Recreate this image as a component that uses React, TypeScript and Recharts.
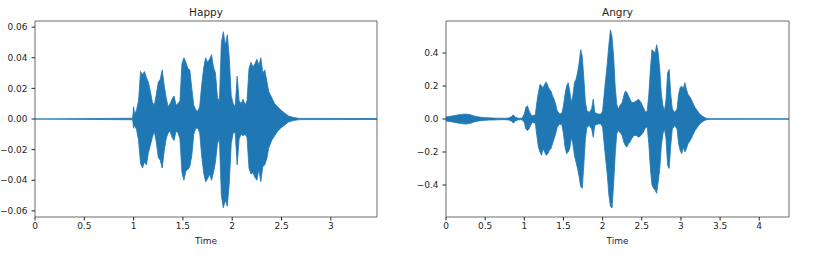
import { AreaChart, Area, XAxis, YAxis, ReferenceArea } from "recharts";

// envelope of the "Happy" waveform: time (s), max and min amplitude
const happyTime = [
  0, 0.99, 1.0, 1.01, 1.03, 1.05, 1.07, 1.09, 1.11, 1.13, 1.15, 1.17, 1.19, 1.21, 1.23, 1.25, 1.27, 1.29,
  1.31, 1.33, 1.35, 1.37, 1.39, 1.41, 1.43, 1.45, 1.47, 1.49, 1.51, 1.53, 1.55, 1.57, 1.59, 1.61, 1.63,
  1.65, 1.67, 1.69, 1.71, 1.73, 1.75, 1.77, 1.79, 1.81, 1.83, 1.85, 1.87, 1.89, 1.91, 1.93, 1.95, 1.97,
  1.99, 2.01, 2.03, 2.05, 2.07, 2.09, 2.11, 2.13, 2.15, 2.17, 2.19, 2.21, 2.23, 2.25, 2.27, 2.29, 2.31,
  2.33, 2.35, 2.37, 2.4, 2.43, 2.46, 2.49, 2.53, 2.57, 2.62, 2.68, 3.47,
];
const happyMax = [
  0, 0.0005, 0.008, 0.003, 0.006, 0.012, 0.031, 0.029, 0.031, 0.027, 0.024, 0.018, 0.011, 0.009, 0.016,
  0.024, 0.026, 0.032, 0.022, 0.014, 0.008, 0.01, 0.013, 0.015, 0.009, 0.01, 0.012, 0.036, 0.04, 0.037,
  0.033, 0.032, 0.02, 0.009, 0.006, 0.005, 0.008, 0.022, 0.033, 0.04, 0.037, 0.039, 0.042, 0.034, 0.03,
  0.014, 0.012, 0.05, 0.057, 0.048, 0.055, 0.04, 0.015, 0.01, 0.008, 0.028, 0.012, 0.01, 0.013, 0.009,
  0.012, 0.033, 0.037, 0.034, 0.036, 0.039, 0.035, 0.04, 0.03, 0.032, 0.025, 0.018, 0.014, 0.01, 0.008,
  0.006, 0.004, 0.002, 0.001, 0.0004, 0.0003,
];
const happyMin = [
  0, -0.0005, -0.006, -0.004, -0.007, -0.014, -0.029, -0.032, -0.028, -0.03, -0.022, -0.017, -0.012,
  -0.008, -0.015, -0.025, -0.027, -0.032, -0.021, -0.013, -0.009, -0.008, -0.012, -0.014, -0.008, -0.009,
  -0.013, -0.035, -0.04, -0.034, -0.033, -0.031, -0.024, -0.01, -0.006, -0.006, -0.009, -0.024, -0.035,
  -0.041, -0.039, -0.036, -0.04, -0.035, -0.028, -0.016, -0.013, -0.05, -0.058, -0.053, -0.057, -0.042,
  -0.016, -0.009, -0.009, -0.03, -0.013, -0.01, -0.011, -0.01, -0.012, -0.032, -0.036, -0.035, -0.038,
  -0.04, -0.033, -0.041, -0.031, -0.03, -0.026, -0.019, -0.014, -0.011, -0.008, -0.006, -0.004, -0.002,
  -0.001, -0.0004, -0.0003,
];

// envelope of the "Angry" waveform
const angryTime = [
  0, 0.05, 0.1, 0.15, 0.2, 0.25, 0.3, 0.35, 0.4, 0.45, 0.5, 0.55, 0.6, 0.65, 0.7, 0.75, 0.8, 0.84, 0.86,
  0.88, 0.92, 0.97, 1.0, 1.02, 1.04, 1.06, 1.08, 1.1, 1.14, 1.16, 1.18, 1.2, 1.22, 1.24, 1.26, 1.28, 1.3,
  1.32, 1.34, 1.36, 1.38, 1.4, 1.42, 1.45, 1.48, 1.5, 1.52, 1.54, 1.56, 1.58, 1.6, 1.62, 1.64, 1.66, 1.68,
  1.7, 1.72, 1.74, 1.76, 1.78, 1.8, 1.83, 1.86, 1.88, 1.9, 1.94, 1.98, 2.0, 2.03, 2.06, 2.08, 2.1, 2.12,
  2.14, 2.16, 2.18, 2.2, 2.22, 2.25, 2.27, 2.29, 2.31, 2.33, 2.35, 2.37, 2.4, 2.43, 2.46, 2.49, 2.52, 2.55,
  2.57, 2.59, 2.61, 2.63, 2.65, 2.67, 2.69, 2.71, 2.73, 2.75, 2.77, 2.79, 2.81, 2.83, 2.85, 2.87, 2.89,
  2.92, 2.95, 2.97, 2.99, 3.01, 3.03, 3.05, 3.07, 3.09, 3.12, 3.15, 3.18, 3.21, 3.24, 3.28, 3.32, 3.36,
  4.38,
];
const angryMax = [
  0.012, 0.016, 0.02, 0.025, 0.028, 0.03, 0.027, 0.02, 0.014, 0.01, 0.008, 0.007, 0.006, 0.005, 0.005,
  0.004, 0.006, 0.015, 0.026, 0.012, 0.005, 0.004, 0.03, 0.07, 0.08, 0.05, 0.03, 0.02, 0.025, 0.1, 0.16,
  0.21, 0.2, 0.19, 0.21, 0.225, 0.2, 0.18, 0.17, 0.14, 0.12, 0.09, 0.05, 0.03, 0.035, 0.08, 0.15, 0.2,
  0.22, 0.17, 0.1, 0.14, 0.22, 0.24, 0.28, 0.34, 0.42, 0.38, 0.25, 0.1, 0.05, 0.04, 0.06, 0.12, 0.04,
  0.03, 0.03, 0.05, 0.2, 0.34, 0.45, 0.54, 0.5, 0.38, 0.2, 0.09, 0.06, 0.08, 0.1, 0.14, 0.17, 0.16, 0.14,
  0.12, 0.1, 0.1, 0.11, 0.12, 0.1, 0.07, 0.04, 0.05, 0.15, 0.3, 0.42, 0.41, 0.4, 0.45, 0.4, 0.3, 0.15,
  0.08, 0.05, 0.12, 0.28, 0.3, 0.15, 0.06, 0.04, 0.06, 0.15, 0.19, 0.2, 0.18, 0.22, 0.18, 0.15, 0.13,
  0.1, 0.07, 0.05, 0.03, 0.015, 0.005, 0.002, 0.001,
];
const angryMin = [
  -0.012, -0.015, -0.02, -0.024, -0.028, -0.031, -0.028, -0.019, -0.013, -0.01, -0.008, -0.006, -0.006,
  -0.005, -0.004, -0.004, -0.006, -0.014, -0.025, -0.013, -0.005, -0.004, -0.02, -0.06, -0.07, -0.06,
  -0.04, -0.02, -0.025, -0.1, -0.17, -0.2, -0.22, -0.18, -0.2, -0.22, -0.21, -0.19, -0.18, -0.15, -0.12,
  -0.09, -0.05, -0.03, -0.035, -0.09, -0.17, -0.21, -0.2, -0.18, -0.11, -0.15, -0.22, -0.26, -0.3, -0.35,
  -0.41, -0.42, -0.28, -0.12, -0.05, -0.04, -0.06, -0.11, -0.04, -0.03, -0.03, -0.05, -0.2, -0.34,
  -0.46, -0.53, -0.54, -0.4, -0.22, -0.09, -0.07, -0.08, -0.1, -0.14, -0.16, -0.17, -0.15, -0.14, -0.12,
  -0.1, -0.1, -0.11, -0.1, -0.08, -0.05, -0.05, -0.15, -0.3, -0.4, -0.42, -0.43, -0.45, -0.38, -0.3,
  -0.16, -0.09, -0.06, -0.12, -0.28, -0.3, -0.16, -0.06, -0.04, -0.06, -0.15, -0.19, -0.21, -0.17, -0.2,
  -0.18, -0.15, -0.13, -0.1, -0.07, -0.05, -0.03, -0.015, -0.005, -0.002, -0.001,
];

const happyXTicks = [0, 0.5, 1, 1.5, 2, 2.5, 3];
const happyYTicks = [-0.06, -0.04, -0.02, 0, 0.02, 0.04, 0.06];
const angryXTicks = [0, 0.5, 1, 1.5, 2, 2.5, 3, 3.5, 4];
const angryYTicks = [-0.4, -0.2, 0, 0.2, 0.4];

const BLUE = "#1f77b4";
const TEXT = "#262626";
const FONT = "'DejaVu Sans', sans-serif";

const fmtY = (digits: number) => (v: number) => {
  const s = Math.abs(v).toFixed(digits);
  return v < 0 ? `\u2212${s}` : s;
};

interface WaveProps {
  title: string;
  time: number[];
  hi: number[];
  lo: number[];
  xMax: number;
  yMax: number;
  xTicks: number[];
  yTicks: number[];
  yDigits: number;
  left: number;
  width: number;
  yAxisWidth: number;
  rightMargin: number;
}

function Wave(props: WaveProps) {
  const data = props.time.map((t, i) => ({ t, range: [props.lo[i], props.hi[i]] }));
  const tick = { fontSize: 9, fill: TEXT, fontFamily: FONT };
  const plotLeft = props.yAxisWidth;
  const plotRight = props.width - props.rightMargin;

  return (
    <div style={{ position: "absolute", left: props.left, top: 0, width: props.width, height: 265 }}>
      <div
        style={{
          position: "absolute",
          left: plotLeft,
          width: plotRight - plotLeft,
          top: 5,
          textAlign: "center",
          fontSize: 10.5,
          fontFamily: FONT,
          color: TEXT,
          lineHeight: "14px",
        }}
      >
        {props.title}
      </div>
      <AreaChart
        width={props.width}
        height={265}
        data={data}
        margin={{ top: 21, right: props.rightMargin, bottom: 18, left: 0 }}
      >
        <XAxis
          dataKey="t"
          type="number"
          domain={[0, props.xMax]}
          allowDataOverflow
          ticks={props.xTicks}
          tickFormatter={(v: number) => String(v)}
          tick={tick}
          tickSize={3.5}
          tickMargin={2}
          tickLine={{ stroke: TEXT }}
          axisLine={false}
          height={30}
          label={{ value: "Time", position: "insideBottom", offset: 3, fontSize: 9, fill: TEXT, fontFamily: FONT }}
        />
        <YAxis
          type="number"
          domain={[-props.yMax, props.yMax]}
          allowDataOverflow
          ticks={props.yTicks}
          tickFormatter={fmtY(props.yDigits)}
          tick={tick}
          tickSize={3.5}
          tickMargin={4}
          tickLine={{ stroke: TEXT }}
          axisLine={false}
          width={props.yAxisWidth}
        />
        <Area
          type="linear"
          dataKey="range"
          stroke={BLUE}
          strokeWidth={0.8}
          fill={BLUE}
          fillOpacity={1}
          dot={false}
          activeDot={false}
          isAnimationActive={false}
        />
        <ReferenceArea
          x1={0}
          x2={props.xMax}
          y1={-props.yMax}
          y2={props.yMax}
          fill="none"
          stroke="#444"
          strokeWidth={0.8}
          ifOverflow="visible"
        />
      </AreaChart>
    </div>
  );
}

export default function App() {
  return (
    <div style={{ position: "absolute", left: 0, top: 0, width: 817, height: 265, background: "#fff" }}>
      <Wave
        title="Happy"
        time={happyTime}
        hi={happyMax}
        lo={happyMin}
        xMax={3.468}
        yMax={0.064}
        xTicks={happyXTicks}
        yTicks={happyYTicks}
        yDigits={2}
        left={0}
        width={400}
        yAxisWidth={35}
        rightMargin={23}
      />
      <Wave
        title="Angry"
        time={angryTime}
        hi={angryMax}
        lo={angryMin}
        xMax={4.38}
        yMax={0.594}
        xTicks={angryXTicks}
        yTicks={angryYTicks}
        yDigits={1}
        left={400}
        width={417}
        yAxisWidth={46}
        rightMargin={28}
      />
    </div>
  );
}
